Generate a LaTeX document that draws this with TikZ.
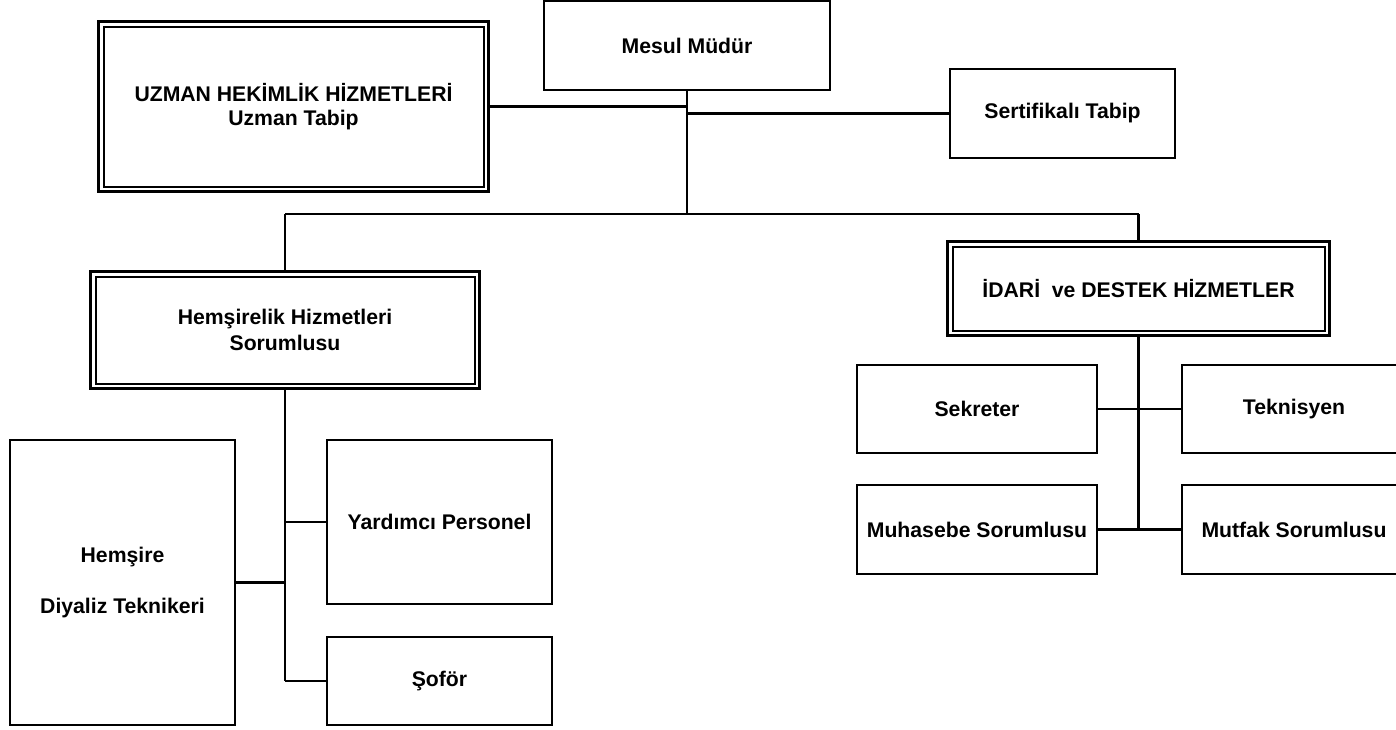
\documentclass[tikz,border=0pt]{standalone}
\usepackage{fontspec}
\setmainfont{Liberation Sans}
\usetikzlibrary{calc}
\begin{document}
\begin{tikzpicture}[x=1pt,y=-1pt,
  every node/.style={inner sep=0pt, outer sep=0pt, align=center,
    font=\bfseries\fontsize{21.2}{23.5}\selectfont},
  box/.style={draw, line width=2pt},
  dbox/.style={draw, line width=3pt},
  inner/.style={line width=2pt},
  conn/.style={line width=2.2pt}]
\clip (0,0) rectangle (1396,729);
\fill[white] (0,0) rectangle (1396,729);
% boxes
\node[box, minimum width=286pt, minimum height=89pt] (mesul) at (687,45.5) {Mesul Müdür};
\node[dbox, minimum width=390pt, minimum height=170pt] (uzman) at (293.5,106.5) {UZMAN HEKİMLİK HİZMETLERİ\\Uzman Tabip};
\node[box, minimum width=225pt, minimum height=89pt] (sert) at (1062.5,113.5) {Sertifikalı Tabip};
\node[dbox, minimum width=389pt, minimum height=117pt] (hems) at (285,330) {Hemşirelik Hizmetleri\\[2.5pt]Sorumlusu};
\node[dbox, minimum width=382pt, minimum height=94pt] (idari) at (1138.5,288.5) {İDARİ~ ve DESTEK HİZMETLER};
\node[box, minimum width=225pt, minimum height=285pt] (hemsire) at (122.5,582.5) {Hemşire\\[27.5pt]Diyaliz Teknikeri};
\node[box, minimum width=225pt, minimum height=164pt] (yard) at (439.5,522) {Yardımcı Personel};
\node[box, minimum width=225pt, minimum height=88pt] (sofor) at (439.5,681) {Şoför};
\node[box, minimum width=240pt, minimum height=88pt] (sek) at (977,409) {Sekreter};
\node[box, minimum width=224pt, minimum height=88pt] (tek) at (1294,409) {Teknisyen};
\node[box, minimum width=240pt, minimum height=89pt] (muh) at (977,529.5) {Muhasebe Sorumlusu};
\node[box, minimum width=224pt, minimum height=89pt] (mutfak) at (1294,529.5) {Mutfak Sorumlusu};
% inner lines of the double frames
\foreach \n in {uzman,hems,idari}
  \draw[inner] ($(\n.south west)+(5,-5)$) rectangle ($(\n.north east)+(-5,5)$);
% connectors
\coordinate (hb) at (687,214);
\draw[conn] (mesul.south) -- (hb);
\draw[conn] (uzman.east) -- (uzman.east -| mesul.south);
\draw[conn] (sert.west -| mesul.south) -- (sert.west);
\draw[conn] (hems.north |- hb) -- (idari.north |- hb);
\draw[conn] (hems.north |- hb) -- (hems.north);
\draw[conn] (idari.north |- hb) -- (idari.north);
\draw[conn] (hems.south) -- (hems.south |- sofor.west);
\draw[conn] (hemsire.east) -- (hemsire.east -| hems.south);
\draw[conn] (yard.west -| hems.south) -- (yard.west);
\draw[conn] (sofor.west -| hems.south) -- (sofor.west);
\draw[conn] (idari.south) -- (idari.south |- muh.east);
\draw[conn] (sek.east) -- (tek.west);
\draw[conn] (muh.east) -- (mutfak.west);
\end{tikzpicture}
\end{document}
